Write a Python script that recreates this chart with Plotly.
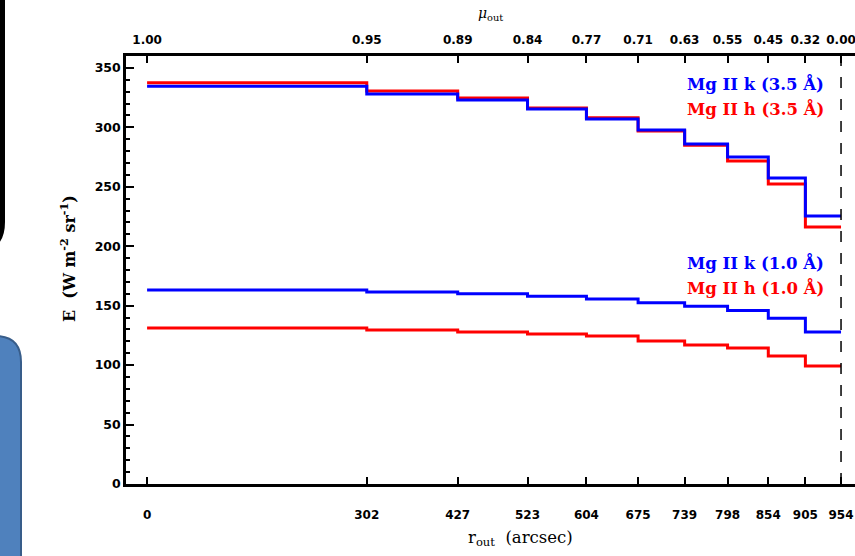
import plotly.graph_objects as go

# Data
r_out = [0, 302, 427, 523, 604, 675, 739, 798, 854, 905, 954]
r_labels = ["0", "302", "427", "523", "604", "675", "739", "798", "854", "905", "954"]
mu_labels = ["1.00", "0.95", "0.89", "0.84", "0.77", "0.71", "0.63", "0.55", "0.45", "0.32", "0.00"]

k_35 = [334.5, 328, 323, 315.5, 307, 297.8, 286, 275, 257.4, 225.5]
h_35 = [337.4, 330.6, 324.7, 316.3, 308, 297, 285, 271.7, 252.4, 216.2]
k_10 = [163.2, 161.5, 160, 158, 155.6, 152.5, 149.5, 146, 139.5, 127.9]
h_10 = [131.2, 129.6, 127.9, 126.2, 124.5, 120.3, 117, 114.4, 107.7, 99.3]

BLUE = "#0000ff"
RED = "#ff0000"

# plot-area geometry (pixels) for paper conversions
L, T, W, H = 126, 56, 729, 428
FIG_W, FIG_H = 855, 556


def px(xp):
    return (xp - L) / W


def py(yp):
    return (T + H - yp) / H


fig = go.Figure()


def step_trace(vals, color):
    return go.Scatter(x=r_out, y=vals + [vals[-1]], mode="lines",
                      line=dict(color=color, width=3, shape="hv"),
                      showlegend=False, hoverinfo="skip")


fig.add_trace(step_trace(h_35, RED))
fig.add_trace(step_trace(k_35, BLUE))
fig.add_trace(step_trace(h_10, RED))
fig.add_trace(step_trace(k_10, BLUE))
# invisible trace for top axis
fig.add_trace(go.Scatter(x=r_out, y=[None] * len(r_out), xaxis="x2", yaxis="y",
                         mode="lines", showlegend=False, hoverinfo="skip"))

tickfont = dict(family="DejaVu Sans", size=12, color="black", weight="bold")
xrange = [-29, 973.2]

fig.update_layout(
    width=FIG_W, height=FIG_H,
    margin=dict(l=L, r=FIG_W - L - W, t=T, b=FIG_H - T - H),
    paper_bgcolor="white", plot_bgcolor="white",
    xaxis=dict(range=xrange, tickvals=r_out, ticktext=r_labels, ticks="inside",
               ticklen=7, tickwidth=2, tickcolor="black", showline=True,
               linecolor="black", linewidth=2.5, showgrid=False, zeroline=False,
               tickfont=tickfont, ticklabelstandoff=18, ticklabeloverflow="allow"),
    xaxis2=dict(range=xrange, overlaying="x", side="top", tickvals=r_out,
                ticktext=mu_labels, ticks="inside", ticklen=7, tickwidth=2,
                tickcolor="black", showline=True, linecolor="black", linewidth=2.5,
                showgrid=False, zeroline=False, tickfont=tickfont, ticklabelstandoff=4,
                ticklabeloverflow="allow"),
    yaxis=dict(range=[0, 360], tickvals=[0, 50, 100, 150, 200, 250, 300, 350],
               ticks="inside", ticklen=8, tickwidth=2, tickcolor="black",
               showline=True, linecolor="black", linewidth=2.5, showgrid=False,
               zeroline=False,
               tickfont=dict(family="DejaVu Sans", size=12.5, color="black", weight="bold"),
               minor=dict(dtick=10, ticks="inside", ticklen=4, tickwidth=1.5,
                          tickcolor="black", showgrid=False)),
)

# dashed vertical line at the limb
fig.add_shape(type="line", x0=r_out[-1], x1=r_out[-1], y0=0, y1=1, xref="x", yref="paper",
              line=dict(color="black", width=1.5, dash="11px,11px"))

serif = "DejaVu Serif"
ann = [
    ("Mg II k (3.5 Å)", BLUE, 826, 83),
    ("Mg II h (3.5 Å)", RED, 826, 108),
    ("Mg II k (1.0 Å)", BLUE, 826, 262),
    ("Mg II h (1.0 Å)", RED, 826, 287),
]
for txt, col, xp_, yp_ in ann:
    fig.add_annotation(text=txt, x=px(xp_), y=py(yp_), xref="paper", yref="paper",
                       xanchor="right", yanchor="middle", showarrow=False,
                       font=dict(family=serif, size=16.5, color=col, weight="bold"))

fig.add_annotation(text="E  (W m<sup>-2</sup> sr<sup>-1</sup>)", x=px(68), y=py(259),
                   xref="paper", yref="paper", textangle=-90, showarrow=False,
                   xanchor="center", yanchor="middle",
                   font=dict(family=serif, size=16, color="black", weight="bold"))
fig.add_annotation(text="r<sub>out</sub>  (arcsec)", x=px(520), y=py(538),
                   xref="paper", yref="paper", showarrow=False,
                   xanchor="center", yanchor="middle",
                   font=dict(family=serif, size=16.5, color="black"))
fig.add_annotation(text="<i>μ</i><sub>out</sub>", x=px(490), y=py(14),
                   xref="paper", yref="paper", showarrow=False,
                   xanchor="center", yanchor="middle",
                   font=dict(family=serif, size=14, color="black"))

# slide decorations on the left edge
# black rounded frame (right edge only visible)
fig.add_shape(type="path", xref="paper", yref="paper",
              path=f"M {px(-40)} {py(-20)} L {px(2.5)} {py(-20)} L {px(2.5)} {py(222)} "
                   f"Q {px(2.5)} {py(250)} {px(-25)} {py(250)}",
              line=dict(color="black", width=5), fillcolor="rgba(0,0,0,0)", layer="above")
# blue rounded box
fig.add_shape(type="path", xref="paper", yref="paper",
              path=f"M {px(-40)} {py(336)} L {px(-5)} {py(336)} "
                   f"Q {px(21)} {py(336)} {px(21)} {py(362)} L {px(21)} {py(580)} "
                   f"L {px(-40)} {py(580)} Z",
              line=dict(color="#385D8A", width=2), fillcolor="#4F81BD", layer="above")

fig.write_html("out.html", config={"displayModeBar": False},
               post_script="document.body.style.margin='0';document.body.style.overflow='hidden';")
